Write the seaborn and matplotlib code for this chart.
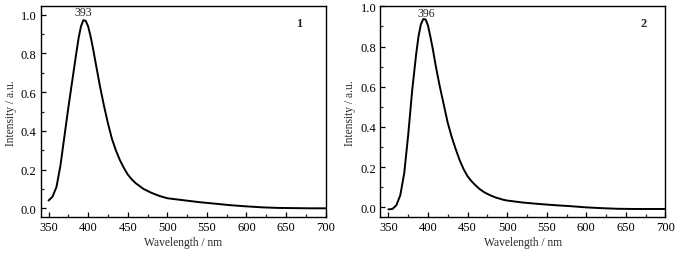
import numpy as np
import pandas as pd
import seaborn as sns
import matplotlib.pyplot as plt
from matplotlib.ticker import MultipleLocator, FormatStrFormatter

# wavelength grid (nm)
wavelength = [350, 355, 360, 365, 370, 375, 380, 385, 388, 391, 394, 397, 400, 403, 406, 410, 415, 420,
              425, 430, 435, 440, 445, 450, 455, 460, 465, 470, 475, 480, 485, 490, 495,
              500, 520, 540, 560, 580, 600, 620, 640, 660, 680, 700]

# emission spectrum of compound 1
intensity_1 = [0.04, 0.06, 0.11, 0.22, 0.37, 0.52, 0.66, 0.80, 0.88, 0.94, 0.972, 0.968, 0.94, 0.89, 0.83, 0.74, 0.63, 0.53,
               0.44, 0.36, 0.30, 0.25, 0.21, 0.175, 0.15, 0.13, 0.115, 0.10, 0.09, 0.08, 0.072, 0.064, 0.058,
               0.052, 0.042, 0.032, 0.024, 0.016, 0.010, 0.005, 0.002, 0.001, 0.0, 0.0]

# emission spectrum of compound 2
intensity_2 = [-0.01, -0.008, 0.01, 0.06, 0.17, 0.36, 0.58, 0.76, 0.85, 0.91, 0.937, 0.935, 0.905, 0.85, 0.79, 0.70, 0.60, 0.51,
               0.42, 0.35, 0.29, 0.235, 0.19, 0.155, 0.13, 0.11, 0.092, 0.078, 0.067, 0.058, 0.05, 0.044, 0.038,
               0.034, 0.024, 0.017, 0.011, 0.006, 0.0, -0.004, -0.007, -0.008, -0.008, -0.008]

peak_labels = ["393", "396"]
peak_pos = [(394, 1.012), (397.5, 0.967)]
panel_labels = ["1", "2"]
panel_pos = [(667, 0.955), (672, 0.915)]
ylims = [(-0.045, 1.043), (-0.048, 1.0)]

sns.set_style("ticks")
plt.rcParams['font.family'] = ['Liberation Serif', 'DejaVu Serif']

fig = plt.figure(figsize=(6.77, 2.55), dpi=100)
axes = [fig.add_axes([0.060, 0.145, 0.421, 0.826]),
        fig.add_axes([0.562, 0.145, 0.421, 0.826])]

for i, (ax, inten) in enumerate(zip(axes, [intensity_1, intensity_2])):
    df = pd.DataFrame({"Wavelength": wavelength, "Intensity": inten})
    sns.lineplot(ax=ax, data=df, x="Wavelength", y="Intensity", color="black", linewidth=1.4)
    ax.set_xlim(340, 700)
    ax.set_ylim(*ylims[i])
    ax.xaxis.set_major_locator(MultipleLocator(50))
    ax.xaxis.set_minor_locator(MultipleLocator(25))
    ax.yaxis.set_major_locator(MultipleLocator(0.2))
    ax.yaxis.set_minor_locator(MultipleLocator(0.1))
    ax.yaxis.set_major_formatter(FormatStrFormatter('%.1f'))
    ax.tick_params(which='major', direction='in', length=3.5, width=0.9, labelsize=9, pad=3,
                   colors='black')
    ax.tick_params(which='minor', direction='in', length=2, width=0.9)
    for s in ax.spines.values():
        s.set_linewidth(1.0)
        s.set_color('black')
    ax.set_xlabel("Wavelength / nm", fontsize=8.3, labelpad=2)
    ax.set_ylabel("Intensity / a.u.", fontsize=8.3, labelpad=3)
    ax.text(peak_pos[i][0], peak_pos[i][1], peak_labels[i], ha='center', va='center', fontsize=8.5)
    ax.text(panel_pos[i][0], panel_pos[i][1], panel_labels[i], ha='center', va='center',
            fontsize=9, fontweight='bold')

plt.savefig("out.png", dpi=100)
